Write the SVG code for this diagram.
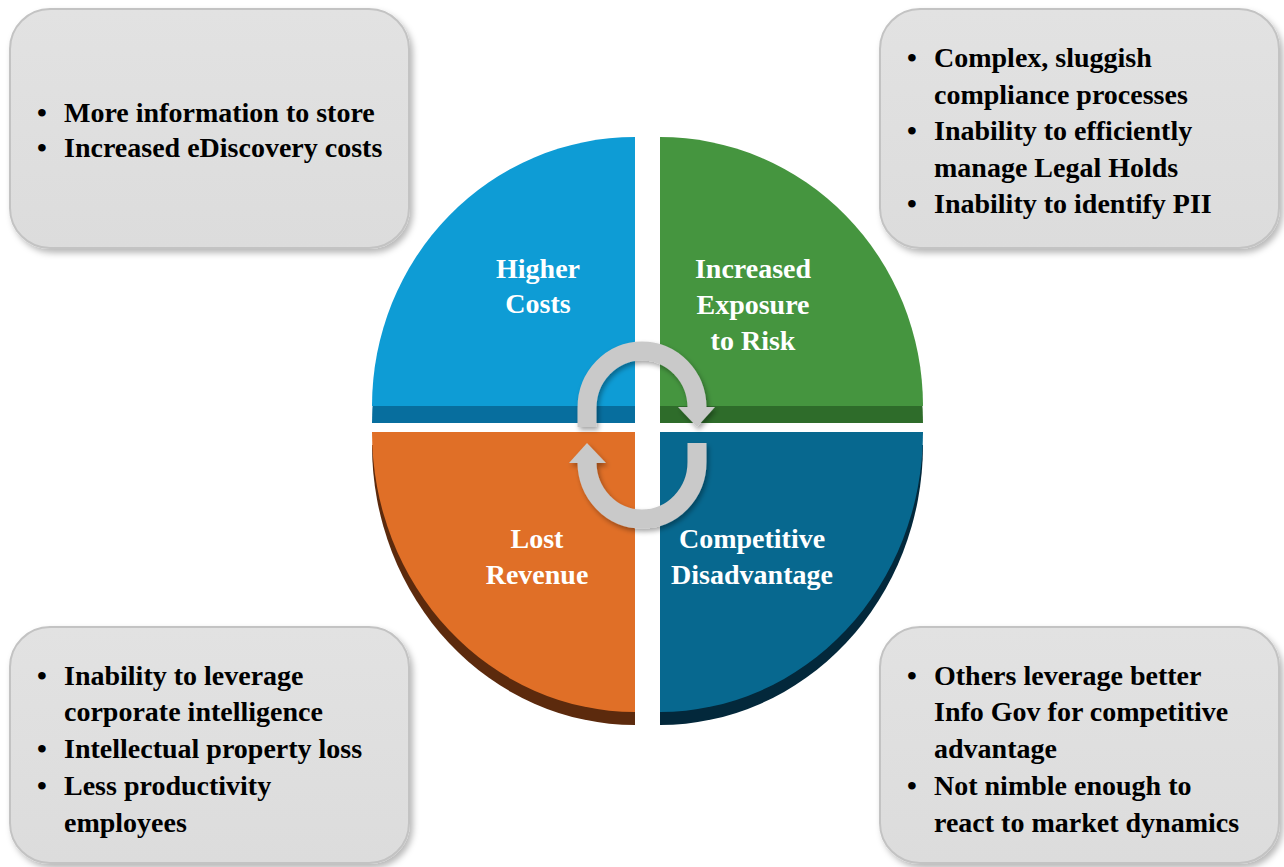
<svg xmlns="http://www.w3.org/2000/svg" width="1284" height="867" viewBox="0 0 1284 867">
  <defs>
    <filter id="boxShadow" x="-10%" y="-10%" width="125%" height="125%">
      <feDropShadow dx="3" dy="4" stdDeviation="3" flood-color="#000" flood-opacity="0.28"/>
    </filter>
    <filter id="arrowShadow" x="-20%" y="-20%" width="140%" height="140%">
      <feDropShadow dx="2" dy="3" stdDeviation="2.5" flood-color="#000" flood-opacity="0.35"/>
    </filter>
    <linearGradient id="boxFill" x1="0" y1="0" x2="0" y2="1">
      <stop offset="0" stop-color="#E2E2E2"/>
      <stop offset="1" stop-color="#DCDCDC"/>
    </linearGradient>
  </defs>
  <style>
    .box { fill: url(#boxFill); stroke: #C3C3C3; stroke-width: 2; filter: url(#boxShadow); }
    .btxt { font-family: "Liberation Serif", "Times New Roman", serif; font-weight: bold; font-size: 28px; fill: #000; }
    .qtxt { font-family: "Liberation Serif", "Times New Roman", serif; font-weight: bold; font-size: 28px; fill: #fff; text-anchor: middle; }
    .arc { fill: none; stroke: #C9C9C9; stroke-width: 19; stroke-linecap: butt; }
    .head { fill: #C9C9C9; }
  </style>

  <rect width="1284" height="867" fill="#fff"/>

  <!-- Quadrant: Higher Costs -->
  <g id="q-higher-costs">
    <path d="M635,423 L372,423 A263,269 0 0 1 635,154 Z" fill="#076E9E"/>
    <path d="M635,406 L372,406 A263,269 0 0 1 635,137 Z" fill="#0E9CD5"/>
    <text class="qtxt" x="538" y="278">Higher</text>
    <text class="qtxt" x="538" y="313">Costs</text>
  </g>

  <!-- Quadrant: Increased Exposure to Risk -->
  <g id="q-exposure">
    <path d="M660,423 L660,154 A263,269 0 0 1 923,423 Z" fill="#2E6C2A"/>
    <path d="M660,406 L660,137 A263,269 0 0 1 923,406 Z" fill="#45953F"/>
    <text class="qtxt" x="753" y="278">Increased</text>
    <text class="qtxt" x="753" y="314">Exposure</text>
    <text class="qtxt" x="753" y="350">to Risk</text>
  </g>

  <!-- Quadrant: Lost Revenue -->
  <g id="q-lost-revenue">
    <path d="M635,445 L372,445 A263,280 0 0 0 635,725 Z" fill="#5C2A0D"/>
    <path d="M635,432 L372,432 A263,280 0 0 0 635,712 Z" fill="#E06F27"/>
    <text class="qtxt" x="537" y="548">Lost</text>
    <text class="qtxt" x="537" y="584">Revenue</text>
  </g>

  <!-- Quadrant: Competitive Disadvantage -->
  <g id="q-competitive">
    <path d="M660,445 L923,445 A263,280 0 0 1 660,725 Z" fill="#03283B"/>
    <path d="M660,432 L923,432 A263,280 0 0 1 660,712 Z" fill="#07688F"/>
    <text class="qtxt" x="752" y="548">Competitive</text>
    <text class="qtxt" x="752" y="584">Disadvantage</text>
  </g>

  <!-- Cycle arrows in the centre -->
  <g id="connectors" filter="url(#arrowShadow)">
    <path class="arc" d="M587,427 L587,408 A55,57 0 0 1 697,408"/>
    <polygon class="head" points="678,407 715,407 697,427"/>
    <path class="arc" d="M697,443 L697,462 A55,57 0 0 1 587,462"/>
    <polygon class="head" points="569,463 606,463 587,443"/>
  </g>

  <!-- Callout: top left -->
  <g id="box-costs">
    <rect class="box" x="10" y="9" width="399" height="239" rx="40" ry="40"/>
    <text class="btxt" x="37" y="122">•</text>
    <text class="btxt" x="64" y="122">More information to store</text>
    <text class="btxt" x="37" y="157">•</text>
    <text class="btxt" x="64" y="157">Increased eDiscovery costs</text>
  </g>

  <!-- Callout: top right -->
  <g id="box-risk">
    <rect class="box" x="880" y="9" width="399" height="239" rx="40" ry="40"/>
    <text class="btxt" x="907" y="67">•</text>
    <text class="btxt" x="934" y="67">Complex, sluggish</text>
    <text class="btxt" x="934" y="103.5">compliance processes</text>
    <text class="btxt" x="907" y="140">•</text>
    <text class="btxt" x="934" y="140">Inability to efficiently</text>
    <text class="btxt" x="934" y="176.5">manage Legal Holds</text>
    <text class="btxt" x="907" y="213">•</text>
    <text class="btxt" x="934" y="213">Inability to identify PII</text>
  </g>

  <!-- Callout: bottom left -->
  <g id="box-revenue">
    <rect class="box" x="10" y="627" width="399" height="236" rx="40" ry="40"/>
    <text class="btxt" x="37" y="685">•</text>
    <text class="btxt" x="64" y="685">Inability to leverage</text>
    <text class="btxt" x="64" y="721">corporate intelligence</text>
    <text class="btxt" x="37" y="758">•</text>
    <text class="btxt" x="64" y="758">Intellectual property loss</text>
    <text class="btxt" x="37" y="795">•</text>
    <text class="btxt" x="64" y="795">Less productivity</text>
    <text class="btxt" x="64" y="832">employees</text>
  </g>

  <!-- Callout: bottom right -->
  <g id="box-competitive">
    <rect class="box" x="880" y="627" width="399" height="236" rx="40" ry="40"/>
    <text class="btxt" x="907" y="685">•</text>
    <text class="btxt" x="934" y="685">Others leverage better</text>
    <text class="btxt" x="934" y="721">Info Gov for competitive</text>
    <text class="btxt" x="934" y="758">advantage</text>
    <text class="btxt" x="907" y="795">•</text>
    <text class="btxt" x="934" y="795">Not nimble enough to</text>
    <text class="btxt" x="934" y="832">react to market dynamics</text>
  </g>
</svg>
